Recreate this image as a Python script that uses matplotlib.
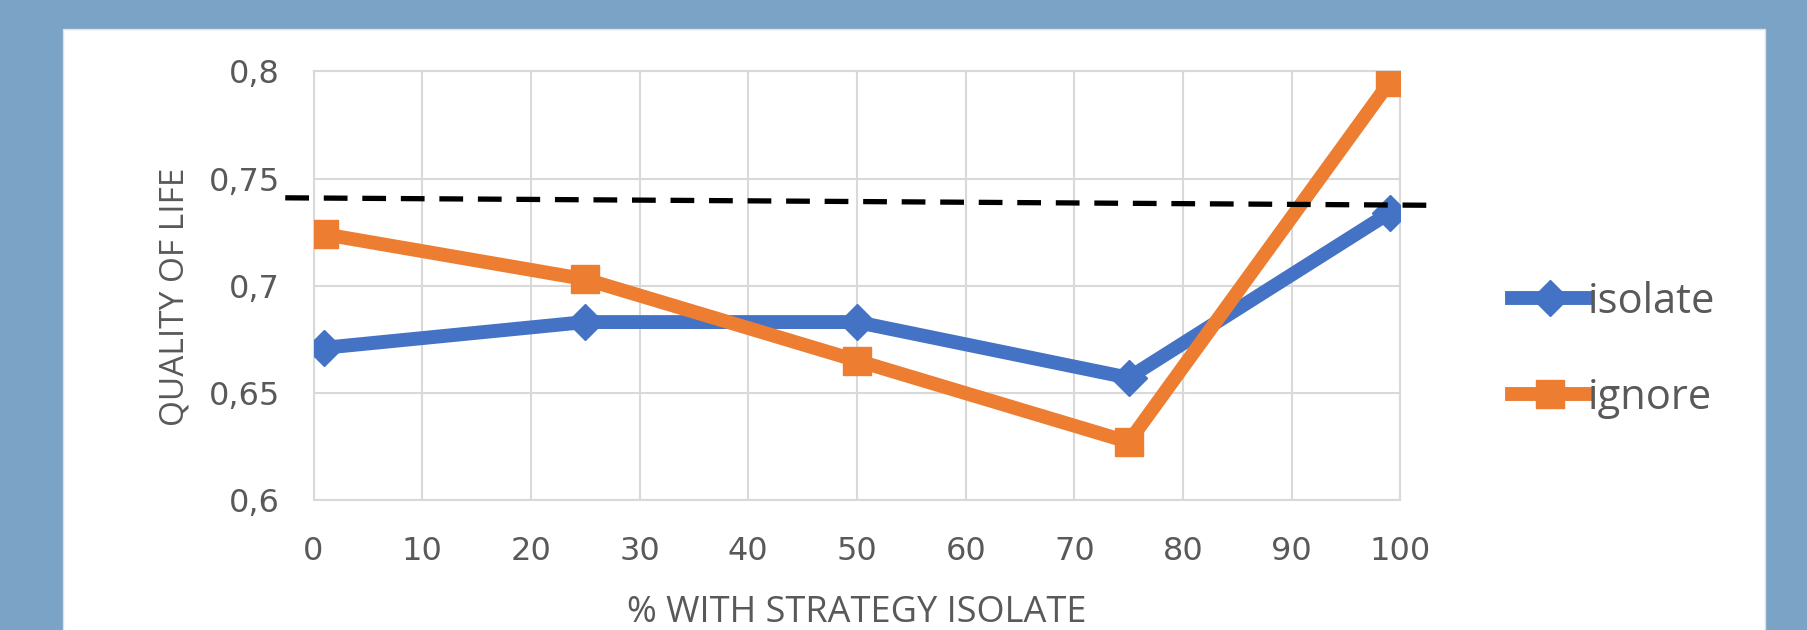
""" Quality of life vs share of isolate strategy """
import matplotlib
matplotlib.use("Agg")
import matplotlib.pyplot as plt
from matplotlib.patches import Rectangle

#------------ Data ------------#
pct_isolate = [1, 25, 50, 75, 99]
qol_isolate = [0.671, 0.683, 0.683, 0.657, 0.734]
qol_ignore = [0.724, 0.703, 0.665, 0.627, 0.795]

ref_x = [-2.6, 103.4]          # dashed reference line ends
ref_y = [0.7410, 0.7375]

x_ticks = [0, 10, 20, 30, 40, 50, 60, 70, 80, 90, 100]
y_ticks = [0.6, 0.65, 0.7, 0.75, 0.8]
y_tick_labels = ["0,6", "0,65", "0,7", "0,75", "0,8"]

BLUE = "#4472C4"
ORANGE = "#ED7D31"
BG = "#7AA3C6"
GRID = "#D9D9D9"
TEXT = "#595959"

plt.rcParams['font.family'] = ['Open Sans', 'DejaVu Sans']

#------------ Figure ------------#
fig = plt.figure(figsize=(18.07, 6.30), dpi=100)
fig.patch.set_facecolor(BG)
# white chart panel
fig.patches.append(Rectangle((0.035, -0.01), 0.942, 0.964, transform=fig.transFigure,
                             facecolor="white", edgecolor="#E0E0E0", lw=1, zorder=-5))

ax = fig.add_axes([0.1735, 0.2066, 0.6015, 0.680])
ax.set_facecolor("none")

ax.plot(pct_isolate, qol_isolate, color=BLUE, lw=10, marker="D", markersize=18,
        label="isolate", zorder=3)
ax.plot(pct_isolate, qol_ignore, color=ORANGE, lw=10, marker="s", markersize=20,
        label="ignore", zorder=3)
ax.plot(ref_x, ref_y, color="black", lw=3.8, linestyle=(0, (4.5, 2.8)),
        clip_on=False, zorder=4)

ax.set_xlim(0, 100)
ax.set_ylim(0.6, 0.8)
ax.set_xticks(x_ticks)
ax.set_yticks(y_ticks)
ax.set_yticklabels(y_tick_labels)
ax.grid(True, color=GRID, lw=1.5)
ax.set_axisbelow(True)
for s in ax.spines.values():
    s.set_color(GRID)
    s.set_linewidth(1.5)
ax.tick_params(axis="x", length=0, colors=TEXT, pad=26)
ax.tick_params(axis="y", length=0, colors=TEXT, pad=24)
for lab in ax.get_xticklabels() + ax.get_yticklabels():
    lab.set_fontfamily("DejaVu Sans")
    lab.set_fontsize(23)

ax.set_xlabel("% WITH STRATEGY ISOLATE", fontsize=26, color=TEXT, labelpad=20)
ax.set_ylabel("QUALITY OF LIFE", fontsize=24, color=TEXT)
ax.yaxis.set_label_coords(-0.112, 0.473)

leg = fig.legend(loc="center left", bbox_to_anchor=(0.816, 0.445), frameon=False,
                 fontsize=30, handlelength=1.8, handletextpad=0.02, labelspacing=1.3,
                 labelcolor=TEXT, markerscale=1.0)

fig.savefig("out.png", dpi=100, facecolor=fig.get_facecolor())
